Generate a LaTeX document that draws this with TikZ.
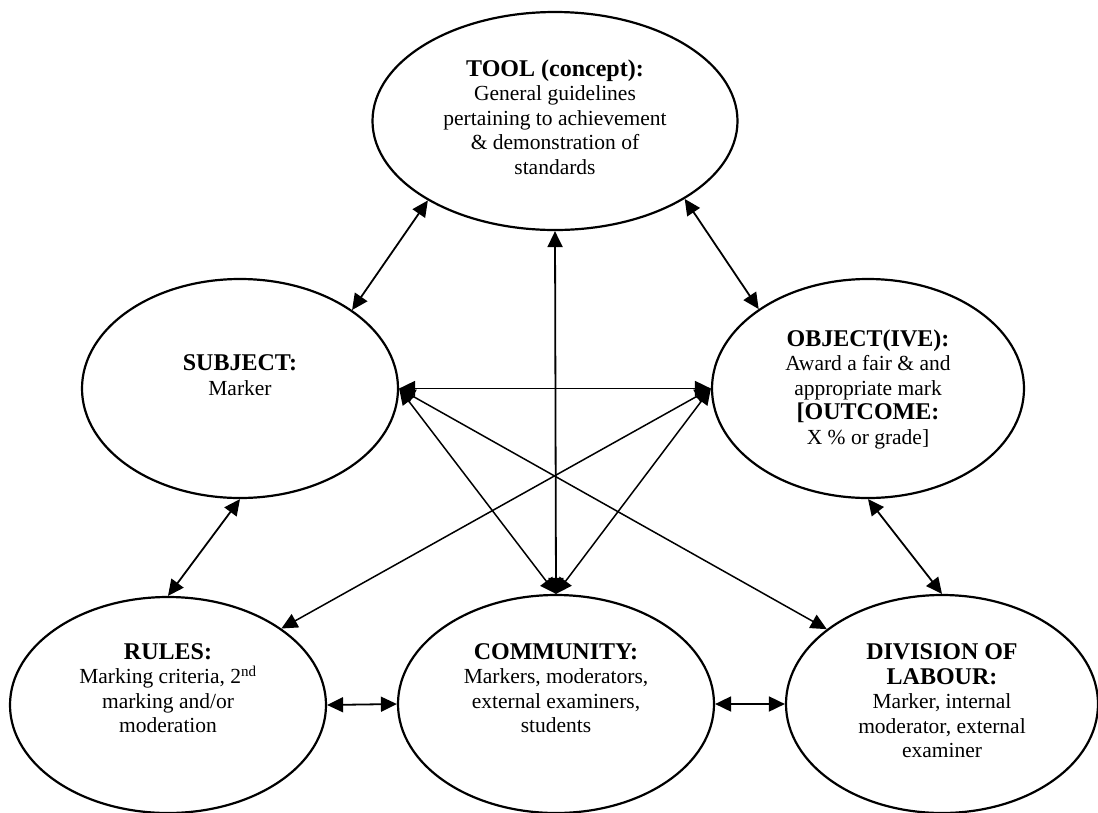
\documentclass[tikz,border=0pt]{standalone}
\usepackage{fontspec}
\setmainfont{Liberation Serif}
\usetikzlibrary{shapes.geometric,arrows.meta}
\newcommand\hdg[1]{{\fontsize{24}{27}\selectfont\bfseries #1}}
\begin{document}
\begin{tikzpicture}[x=1pt,y=-1pt,
  ell/.style={ellipse, draw, line width=2.2pt, inner sep=0pt},
  txt/.style={align=center, inner sep=0pt, font=\fontsize{21.5}{24.5}\selectfont},
  dbl/.style={line width=1.8pt, arrows={Triangle[length=16pt,width=15pt]-Triangle[length=16pt,width=15pt]}},
  dbd/.style={line width=1.5pt, arrows={Triangle[length=16pt,width=15pt]-Triangle[length=16pt,width=15pt]}}]
\useasboundingbox (0,0) rectangle (1098,812);
% ellipses
\node[ell, minimum width=365pt, minimum height=218pt] (tool) at (555,121) {};
\node[ell, minimum width=316pt, minimum height=219pt] (subject) at (240,388.5) {};
\node[ell, minimum width=312pt, minimum height=219pt] (object) at (868,388.5) {};
\node[ell, minimum width=316pt, minimum height=216pt] (rules) at (168,705) {};
\node[ell, minimum width=316pt, minimum height=218pt] (community) at (556,704) {};
\node[ell, minimum width=312pt, minimum height=218pt] (division) at (942,704) {};
% texts
\node[txt] (tooltxt) at (555,117) {\hdg{TOOL (concept):}\\General guidelines\\pertaining to achievement\\\& demonstration of\\standards};
\node[txt] (subjecttxt) at (240,375) {\hdg{SUBJECT:}\\Marker};
\node[txt] (objecttxt) at (868,389) {\hdg{OBJECT(IVE):}\\Award a fair \& and\\appropriate mark\\\hdg{[OUTCOME:}\\X \% or grade]};
\node[txt] (rulestxt) at (168,688) {\hdg{RULES:}\\Marking criteria, 2\textsuperscript{nd}\\marking and/or\\moderation};
\node[txt] (commtxt) at (556,688) {\hdg{COMMUNITY:}\\Markers, moderators,\\external examiners,\\students};
\node[txt] (divtxt) at (942,701) {\hdg{DIVISION OF}\\\hdg{LABOUR:}\\Marker, internal\\moderator, external\\examiner};
% connectors
\draw[dbl] (tool.212) -- (subject.35);
\draw[dbl] (tool.329) -- (object.144.5);
\draw[dbl] (tool.south) -- (community.north);
\draw[dbl] (subject.east) -- (object.west);
\draw[dbl] (subject.south) -- (rules.north);
\draw[dbl] (object.south) -- (division.north);
\draw[dbl] (rules.east) -- (community.west);
\draw[dbl] (community.east) -- (division.west);
\draw[dbd] (subject.east) -- (community.north);
\draw[dbd] (object.west) -- (community.north);
\draw[dbd] (subject.east) -- (division.147);
\draw[dbd] (object.west) -- (rules.34);
\end{tikzpicture}
\end{document}
